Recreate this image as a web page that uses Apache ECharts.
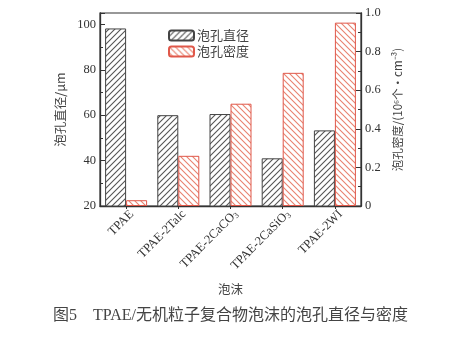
<!DOCTYPE html>
<html><head><meta charset="utf-8">
<script src="https://cdn.jsdelivr.net/npm/echarts@6/dist/echarts.min.js"></script>
<style>html,body{margin:0;padding:0;background:#fff}#c{width:476px;height:337px}</style>
</head><body><div id="c"></div>
<script>
const categories = ['TPAE', 'TPAE-2Talc', 'TPAE-2CaCO3', 'TPAE-2CaSiO3', 'TPAE-2WI'];
const catLabels = ['TPAE', 'TPAE-2Talc', 'TPAE-2CaCO{s|3}', 'TPAE-2CaSiO{s|3}', 'TPAE-2WI'];
const diameter = [98.2, 60, 60.5, 41, 53.3];
const density = [0.03, 0.26, 0.53, 0.69, 0.95];
const seriesNames = ['泡孔直径', '泡孔密度'];

function hatch(color, dir) {
  const s = 6;
  const c = document.createElement('canvas');
  c.width = s; c.height = s;
  const g = c.getContext('2d');
  g.fillStyle = '#fff'; g.fillRect(0, 0, s, s);
  g.strokeStyle = color; g.lineWidth = 1.1;
  g.beginPath();
  if (dir > 0) {
    g.moveTo(0, s); g.lineTo(s, 0);
    g.moveTo(-1, 1); g.lineTo(1, -1);
    g.moveTo(s - 1, s + 1); g.lineTo(s + 1, s - 1);
  } else {
    g.moveTo(0, 0); g.lineTo(s, s);
    g.moveTo(-1, s - 1); g.lineTo(1, s + 1);
    g.moveTo(s - 1, -1); g.lineTo(s + 1, 1);
  }
  g.stroke();
  return { image: c, repeat: 'repeat' };
}

const chart = echarts.init(document.getElementById('c'));
const serif = 'Liberation Serif';
const cjk = 'Noto Sans CJK SC';
chart.setOption({
  animation: false,
  title: {
    text: '图5    TPAE/无机粒子复合物泡沫的泡孔直径与密度',
    left: 48, top: 303,
    textStyle: { fontFamily: serif + ',' + cjk, fontSize: 16, fontWeight: 'normal', color: '#444' }
  },
  legend: {
    data: seriesNames, left: 163, top: 24, orient: 'vertical',
    itemWidth: 25, itemHeight: 10, itemGap: 3,
    textStyle: { fontFamily: cjk, fontSize: 13, color: '#444', padding: [0, 0, 0, -2] }
  },
  grid: { left: 100, right: 115, top: 13, bottom: 131, show: true, borderColor: '#333', borderWidth: 1.2, backgroundColor: 'transparent' },
  xAxis: {
    type: 'category', data: categories,
    name: '泡沫', nameLocation: 'middle', nameGap: 77,
    nameTextStyle: { fontFamily: cjk, fontSize: 12.5, color: '#444' },
    axisLine: { lineStyle: { color: '#333', width: 1.3 } },
    axisTick: { show: true, alignWithLabel: true, inside: false, length: 3, lineStyle: { color: '#333' } },
    axisLabel: {
      rotate: 45, interval: 0, margin: 12, color: '#333',
      fontFamily: serif, fontSize: 12.5, padding: [0, -8, 0, 0],
      formatter: (v, i) => catLabels[i],
      rich: { s: { fontSize: 8.5, verticalAlign: 'bottom', fontFamily: serif, color: '#333', padding: [5, 0, 0, 0] } }
    }
  },
  yAxis: [
    {
      type: 'value', min: 20, max: 105, interval: 20,
      name: '泡孔直径/μm', nameLocation: 'middle', nameGap: 22, nameRotate: 90,
      nameTextStyle: { fontFamily: cjk, fontSize: 12.5, color: '#444' },
      axisLine: { show: true, lineStyle: { color: '#333', width: 1.3 } },
      axisTick: { show: true, inside: true, length: 5, lineStyle: { color: '#333' } },
      minorTick: { show: true, splitNumber: 2, length: 3, lineStyle: { color: '#333' } },
      splitLine: { show: false },
      axisLabel: { fontFamily: serif, fontSize: 12.5, color: '#333', margin: 4,
        formatter: v => (v % 20 === 0 ? String(v) : '') }
    },
    {
      type: 'value', min: 0, max: 1.0, interval: 0.2,
      name: '泡孔密度/(10⁶个·cm⁻³)', nameLocation: 'middle', nameGap: 30, nameRotate: 90,
      nameTextStyle: { fontFamily: cjk, fontSize: 11.5, color: '#444', verticalAlign: 'top' },
      axisLine: { show: true, lineStyle: { color: '#333', width: 1.3 } },
      axisTick: { show: true, inside: true, length: 5, lineStyle: { color: '#333' } },
      minorTick: { show: true, splitNumber: 2, length: 3, lineStyle: { color: '#333' } },
      splitLine: { show: false },
      axisLabel: { fontFamily: serif, fontSize: 12.5, color: '#333', margin: 4,
        formatter: v => (v === 0 ? '0' : v.toFixed(1)) }
    }
  ],
  series: [
    {
      name: seriesNames[0], type: 'bar', yAxisIndex: 0, data: diameter,
      barWidth: 21, barGap: '0%',
      itemStyle: { color: hatch('#555', 1), borderColor: '#444', borderWidth: 1 }
    },
    {
      name: seriesNames[1], type: 'bar', yAxisIndex: 1, data: density,
      barWidth: 21, barGap: '0%',
      itemStyle: { color: hatch('#e8826f', -1), borderColor: '#e0584a', borderWidth: 1 }
    }
  ]
});
</script>
</body></html>
